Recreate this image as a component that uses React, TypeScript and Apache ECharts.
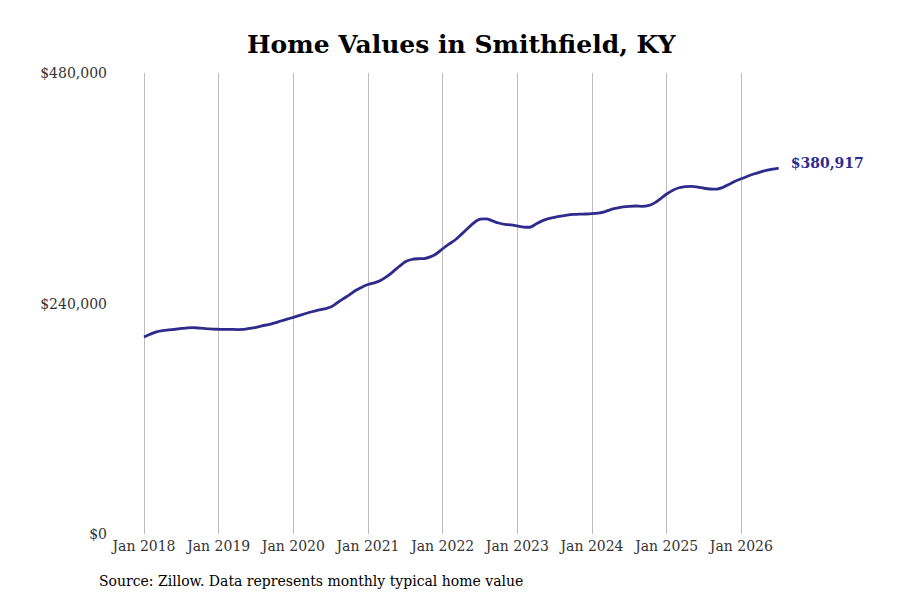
import React, { useEffect, useRef } from "react";
import * as echarts from "echarts";

const startYear = 2018;
const values2018 = [205100, 208000, 210500, 211800, 212500, 213200, 214000, 214700, 214800, 214300, 213800, 213400];
const values2019 = [213200, 213100, 213000, 212900, 213000, 214000, 215200, 216800, 218000, 219800, 221800, 223700];
const values2020 = [225600, 227600, 229600, 231400, 233000, 234300, 236300, 240500, 244800, 249000, 253500, 257000];
const values2021 = [259800, 261500, 264000, 268000, 273000, 278500, 283500, 285800, 286600, 286800, 288500, 291800];
const values2022 = [297000, 301800, 306100, 312000, 318000, 324000, 327800, 328200, 326000, 323800, 322500, 321800];
const values2023 = [320700, 319600, 319400, 322700, 326000, 328300, 329800, 331000, 332000, 332700, 333100, 333200];
const values2024 = [333500, 334200, 335500, 337800, 339300, 340500, 341200, 341500, 341200, 341800, 344500, 349000];
const values2025 = [354000, 358000, 360500, 361800, 362000, 361200, 360000, 359200, 359000, 360800, 364000, 367300];
const values2026 = [369900, 372500, 374800, 376800, 378500, 379800, 380917];

const allValues = [
  ...values2018, ...values2019, ...values2020, ...values2021, ...values2022,
  ...values2023, ...values2024, ...values2025, ...values2026,
];

const yTicks = [0, 240000, 480000];
const title = "Home Values in Smithfield, KY";
const source = "Source: Zillow. Data represents monthly typical home value";
const lineColor = "#2e2b8c";
const serif = "'DejaVu Serif', serif";

const fmtMoney = (v: number) => "$" + Math.round(v).toLocaleString("en-US");

export default function App() {
  const ref = useRef<HTMLDivElement>(null);
  useEffect(() => {
    if (!ref.current) return;
    const chart = echarts.init(ref.current, undefined, { renderer: "svg" });
    const data = allValues.map((v, i) => [i, v]);
    chart.setOption({
      animation: false,
      backgroundColor: "#ffffff",
      title: {
        text: title,
        left: 242,
        top: 27,
        textStyle: { fontFamily: serif, fontSize: 25, fontWeight: "bold", color: "#000" },
      },
      graphic: [
        {
          type: "text",
          left: 99,
          top: 574,
          style: { text: source, fontFamily: serif, fontSize: 14, fill: "#000" },
        },
      ],
      grid: { left: 144, right: 84, top: 73, bottom: 66, containLabel: false },
      xAxis: {
        type: "value",
        min: 0,
        max: 108,
        interval: 12,
        axisLine: { show: false },
        axisTick: { show: false },
        splitLine: { show: true, showMaxLine: false, lineStyle: { color: "#bdbdbd", width: 1 } },
        axisLabel: {
          showMaxLabel: false,
          margin: 5,
          fontFamily: serif,
          fontSize: 14,
          color: "#333",
          formatter: (v: number) => "Jan " + (startYear + Math.round(v / 12)),
        },
      },
      yAxis: {
        type: "value",
        min: 0,
        max: 480000,
        interval: 240000,
        axisLine: { show: false },
        axisTick: { show: false },
        splitLine: { show: false },
        axisLabel: {
          margin: 37,
          fontFamily: serif,
          fontSize: 14,
          color: "#333",
          formatter: (v: number) => (yTicks.includes(v) ? fmtMoney(v) : ""),
        },
      },
      series: [
        {
          type: "line",
          data,
          smooth: 0.3,
          showSymbol: false,
          lineStyle: { color: lineColor, width: 2.8 },
          endLabel: {
            show: true,
            formatter: () => fmtMoney(allValues[allValues.length - 1]),
            fontFamily: serif,
            fontSize: 14,
            fontWeight: "bold",
            color: lineColor,
            offset: [4, -5],
          },
        },
      ],
    });
    return () => chart.dispose();
  }, []);
  return (
    <div
      ref={ref}
      style={{ position: "fixed", left: 0, top: 0, width: 900, height: 600 }}
    />
  );
}
